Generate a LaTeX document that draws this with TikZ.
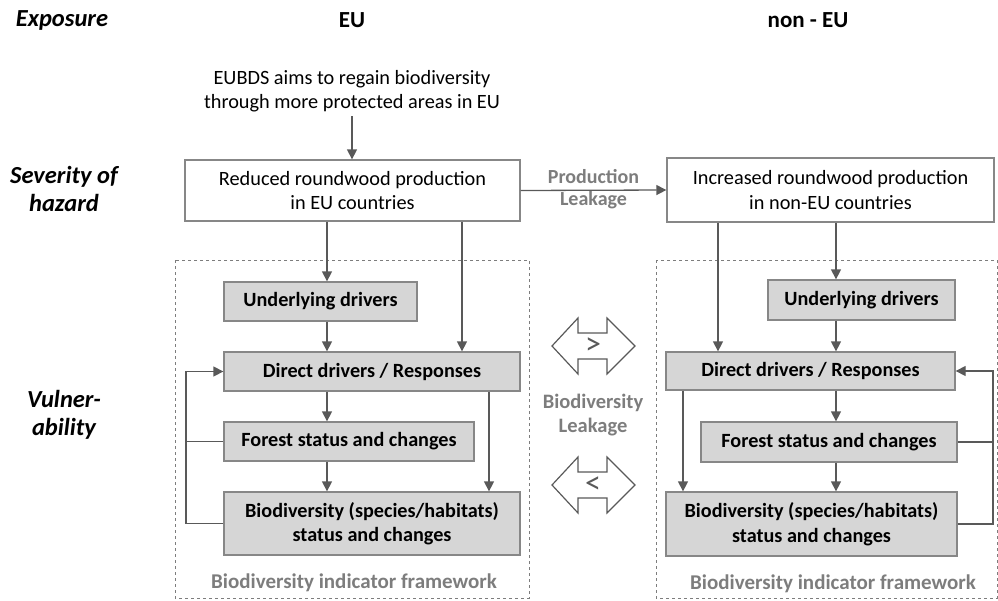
\documentclass[tikz,border=0pt]{standalone}
\usepackage{fontspec}
\setmainfont{Carlito}
\usetikzlibrary{arrows.meta}
\definecolor{linegray}{RGB}{89,89,89}
\definecolor{boxgray}{RGB}{214,214,214}
\definecolor{edgegray}{RGB}{135,135,135}
\definecolor{labelgray}{RGB}{125,125,125}

\begin{document}
\begin{tikzpicture}[x=1pt,y=-1pt,line width=1.3pt,
  every node/.style={font=\fontsize{20.3}{24.5}\selectfont},
  arr/.style={draw=linegray,-{Triangle[length=10pt,width=10pt]}},
  line/.style={draw=linegray},
  wbox/.style={draw=edgegray,fill=white,align=center,inner sep=0pt},
  gbox/.style={draw=edgegray,fill=boxgray,align=center,inner sep=0pt,font=\fontsize{20.2}{24.5}\selectfont\bfseries},
  head/.style={font=\fontsize{23}{26}\selectfont\bfseries},
  side/.style={font=\fontsize{24.5}{28.5}\selectfont\bfseries\itshape,align=center},
  glabel/.style={text=labelgray,align=center,font=\fontsize{20}{24}\selectfont\bfseries},
  frame/.style={draw=labelgray,dashed,line width=0.8pt},
  leak/.style={draw=linegray,line width=1.2pt,fill=white}]
  \useasboundingbox (0,0) rectangle (998,600);

  \node[side] (expo) at (62,20) {Exposure};
  \node[side] (sev) at (64,189) {Severity of\\hazard};
  \node[side] (vul) at (64,415) {Vulner-\\ability};
  \node[head] (eu) at (352,20) {EU};
  \node[head] (noneu) at (808,20) {non - EU};

  \node[align=center] (eubds) at (352,91) {EUBDS aims to regain biodiversity\\through more protected areas in EU};
  \node[wbox,minimum width=335,minimum height=61] (redL) at (352.5,190.5) {Reduced roundwood production\\in EU countries};
  \node[wbox,minimum width=327,minimum height=64] (incR) at (830.5,190) {Increased roundwood production\\in non-EU countries};

  \draw[frame] (175,260) rectangle (529,598);
  \draw[frame] (656,260) rectangle (997,598);
  \node[glabel,font=\fontsize{21}{24}\selectfont\bfseries] (fwL) at (354,583) {Biodiversity indicator framework};
  \node[glabel,font=\fontsize{21}{24}\selectfont\bfseries] (fwR) at (833,584) {Biodiversity indicator framework};

  \node[gbox,minimum width=193,minimum height=39] (undL) at (320.5,301.5) {Underlying drivers};
  \node[gbox,minimum width=296,minimum height=39] (dirL) at (372,371.5) {Direct drivers / Responses};
  \node[gbox,minimum width=250,minimum height=39] (forL) at (349,441.5) {Forest status and changes};
  \node[gbox,minimum width=296,minimum height=63] (bioL) at (372,523.5) {Biodiversity (species/habitats)\\status and changes};
  \node[gbox,minimum width=187,minimum height=40] (undR) at (861.5,300) {Underlying drivers};
  \node[gbox,minimum width=289,minimum height=38] (dirR) at (810.5,371) {Direct drivers / Responses};
  \node[gbox,minimum width=256,minimum height=40] (forR) at (829,442) {Forest status and changes};
  \node[gbox,minimum width=291,minimum height=64] (bioR) at (811.5,524) {Biodiversity (species/habitats)\\status and changes};

  \coordinate (colL) at (327,0);
  \coordinate (sideL) at (462,0);
  \coordinate (branchL) at (489,0);
  \coordinate (loopL) at (186,0);
  \coordinate (colR) at (836,0);
  \coordinate (sideR) at (718,0);
  \coordinate (branchR) at (683,0);
  \coordinate (loopR) at (993,0);

  \draw[arr] (eubds.south) -- (eubds.south |- redL.north);
  \draw[arr] (redL.south -| colL) -- (undL.north -| colL);
  \draw[arr] (undL.south -| colL) -- (dirL.north -| colL);
  \draw[arr] (dirL.south -| colL) -- (forL.north -| colL);
  \draw[arr] (forL.south -| colL) -- (bioL.north -| colL);
  \draw[arr] (redL.south -| sideL) -- (dirL.north -| sideL);
  \draw[arr] (dirL.south -| branchL) -- (bioL.north -| branchL);
  \draw[arr] (bioL.west) -- (bioL.west -| loopL) |- (dirL.west);
  \draw[line] (forL.west) -- (forL.west -| loopL);

  \draw[arr] (incR.south -| colR) -- (undR.north -| colR);
  \draw[arr] (undR.south -| colR) -- (dirR.north -| colR);
  \draw[arr] (dirR.south -| colR) -- (forR.north -| colR);
  \draw[arr] (forR.south -| colR) -- (bioR.north -| colR);
  \draw[arr] (incR.south -| sideR) -- (dirR.north -| sideR);
  \draw[arr] (dirR.south -| branchR) -- (bioR.north -| branchR);
  \draw[arr] (bioR.east) -- (bioR.east -| loopR) |- (dirR.east);
  \draw[line] (forR.east) -- (forR.east -| loopR);

  \draw[arr] (redL.east) -- node[glabel,above,inner sep=6pt] {Production} node[glabel,below,inner sep=1pt] {Leakage} (incR.west);

  \coordinate (cmpUp) at (593,346);
  \coordinate (cmpDn) at (593,485);
  \draw[leak,shift={(cmpUp)}] (-41,0) -- (-15,-28) -- (-15,-13) -- (14,-13) -- (14,-28) -- (42,0) -- (14,28) -- (14,13) -- (-15,13) -- (-15,28) -- cycle;
  \draw[leak,shift={(cmpDn)}] (-41,0) -- (-15,-28) -- (-15,-13) -- (14,-13) -- (14,-28) -- (42,0) -- (14,28) -- (14,13) -- (-15,13) -- (-15,28) -- cycle;
  \node[text=linegray,font=\fontsize{32}{32}\selectfont] (gt) at (cmpUp) {>};
  \node[text=linegray,font=\fontsize{32}{32}\selectfont] (lt) at (cmpDn) {<};
  \node[glabel,font=\fontsize{20.5}{24}\selectfont\bfseries] (bleak) at (593,415) {Biodiversity\\Leakage};
\end{tikzpicture}
\end{document}
